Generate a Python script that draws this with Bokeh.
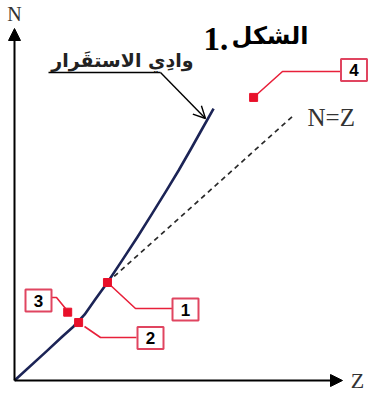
from bokeh.plotting import figure
from bokeh.models import ColumnDataSource, Range1d, Arrow, NormalHead, OpenHead
from bokeh.core.properties import value
from bokeh.embed import file_html
from bokeh.resources import INLINE

# ---- data (Z, N in arbitrary chart units) ----
valley_z = [0, 11.4, 17.1, 21, 25, 29, 33.2, 38.5, 43.8, 49.1, 54.3, 58.6, 62.9, 67.1, 71.1]
valley_n = [0, 10.4, 15.7, 19.2, 23.5, 29.2, 35.0, 43, 51.1, 59.5, 67.9, 75, 82.5, 90, 97.1]
nz_z = [33.2, 99.6]
nz_n = [35.0, 94.6]
nucleus_labels = ["1", "2", "3", "4"]
nucleus_z = [33.2, 22.9, 19.0, 85.4]
nucleus_n = [35.0, 20.7, 24.4, 101.1]
title_ar = "الشكل"
title_num = "1."
valley_label = "وادِي الاستقَرار"
nz_label = "N=Z"

W, H = 369, 394
S = 2.8  # px per unit


def zx(px):  # screen px -> Z
    return (px - 14) / S


def ny(py):  # screen py -> N
    return (380 - py) / S


p = figure(width=W, height=H, output_backend="svg", toolbar_location=None,
           x_range=Range1d(zx(0), zx(W)), y_range=Range1d(ny(H), ny(0)),
           min_border=0)
p.axis.visible = False
p.grid.visible = False
p.outline_line_color = None
p.background_fill_color = "white"

# axes arrows
p.add_layout(Arrow(end=NormalHead(size=12, fill_color="black", line_color="black"),
                   x_start=0, y_start=0, x_end=0, y_end=ny(28), line_width=2))
p.add_layout(Arrow(end=NormalHead(size=12, fill_color="black", line_color="black"),
                   x_start=0, y_start=0, x_end=zx(342), y_end=0, line_width=2))

# N=Z dashed line
p.line(nz_z, nz_n, line_color="#2a2a2a", line_width=1.7, line_dash="5 4")
# valley of stability
p.line(valley_z, valley_n, line_color="#1c2456", line_width=2.6, line_join="round")

# leaders (screen px)
leaders = [
    [(107, 282), (135, 308), (172, 308)],
    [(84, 326), (100, 337), (136, 337)],
    [(51, 297), (56, 297), (65, 308)],
    [(340, 71), (282, 71), (253, 97)],
]
p.multi_line([[zx(a) for a, b in L] for L in leaders],
             [[ny(b) for a, b in L] for L in leaders],
             line_color="#e8203a", line_width=1.6)

# nuclei points
p.scatter(nucleus_z, nucleus_n, marker="square", size=8, fill_color="#e8102a",
          line_color="#e8102a")

# label boxes (screen px centers)
box_px = [(185, 309), (150, 337.5), (38, 300), (353.5, 69.5)]
bsrc = ColumnDataSource(dict(x=[zx(a) for a, b in box_px], y=[ny(b) for a, b in box_px],
                             t=nucleus_labels))
p.rect("x", "y", width=26, height=22, width_units="screen", height_units="screen",
       source=bsrc, fill_color="white", line_color="#e04560", line_width=2)
p.text("x", "y", text="t", source=bsrc, text_align="center", text_baseline="middle",
       text_font=value("Liberation Sans"), text_font_style="bold",
       text_font_size="17px", text_color="black")

# valley label + pointer
p.line([zx(48), zx(160)], [ny(72), ny(72)], line_color="black", line_width=1.4)
p.add_layout(Arrow(end=OpenHead(size=12, line_width=1.4, line_color="black"),
                   x_start=zx(160), y_start=ny(72), x_end=zx(205), y_end=ny(118),
                   line_width=1.4, line_color="black"))
p.text([zx(193)], [ny(59)], text=[valley_label], text_align="right",
       text_baseline="alphabetic", text_font=value("DejaVu Sans"),
       text_font_style="bold", text_font_size="19px", text_color="#222222")

# title
p.text([zx(203)], [ny(38)], text=[title_num], text_align="left",
       text_baseline="alphabetic", text_font=value("Liberation Serif"),
       text_font_style="bold", text_font_size="33px", text_color="black")
p.text([zx(308)], [ny(35)], text=[title_ar], text_align="right",
       text_baseline="alphabetic", text_font=value("DejaVu Sans"),
       text_font_style="bold", text_font_size="24px", text_color="black")

# axis labels
p.text([0], [ny(13)], text=["N"], text_align="center", text_baseline="middle",
       text_font=value("Liberation Serif"), text_font_size="20px", text_color="#333333")
p.text([zx(357)], [0], text=["Z"], text_align="center", text_baseline="middle",
       text_font=value("Liberation Serif"), text_font_size="22px", text_color="#333333")
p.text([zx(307)], [ny(117)], text=[nz_label], text_align="left", text_baseline="middle",
       text_font=value("Liberation Serif"), text_font_size="25px", text_color="#333333")

open("out.html", "w").write(file_html(p, INLINE))
